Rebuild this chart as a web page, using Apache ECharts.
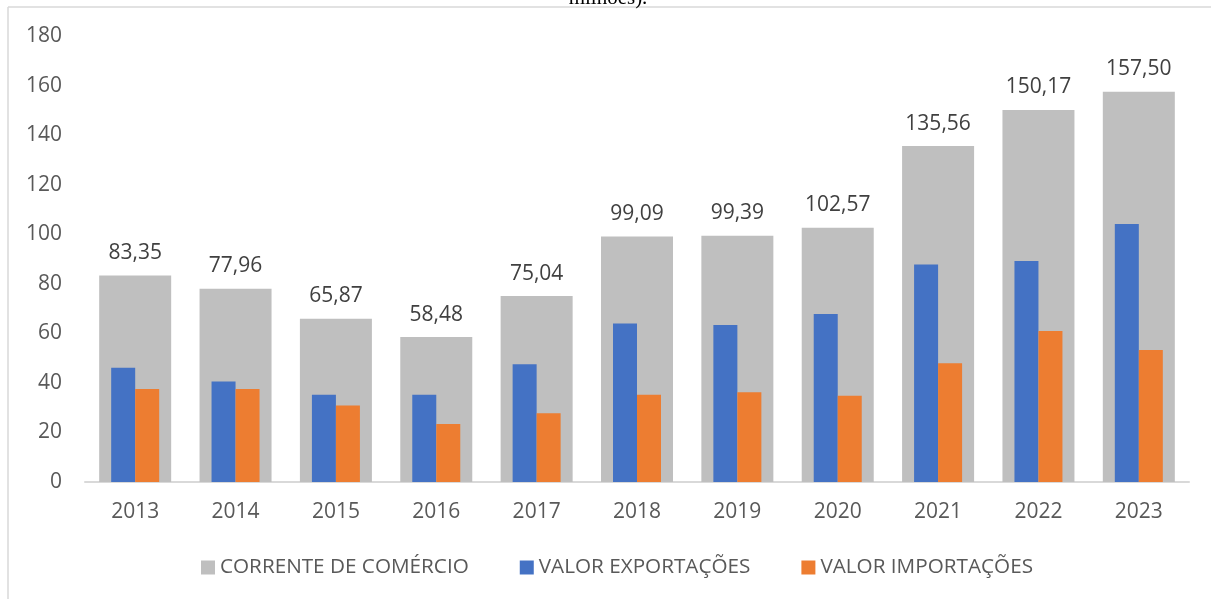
<!DOCTYPE html>
<html>
<head>
<meta charset="utf-8">
<title>Corrente de comércio</title>
<script src="https://cdn.jsdelivr.net/npm/echarts@6/dist/echarts.min.js"></script>
<style>
  html, body { margin: 0; padding: 0; background: #fff; }
  #chart { width: 1211px; height: 599px; }
</style>
</head>
<body>
<div id="chart"></div>
<script>
// dados (bilhões US$)
const anos = ['2013', '2014', '2015', '2016', '2017', '2018', '2019', '2020', '2021', '2022', '2023'];
const corrente = [83.35, 77.96, 65.87, 58.48, 75.04, 99.09, 99.39, 102.57, 135.56, 150.17, 157.50];
const exportacoes = [46.1, 40.6, 35.2, 35.2, 47.5, 64.0, 63.4, 67.8, 87.8, 89.2, 104.1];
const importacoes = [37.5, 37.5, 30.9, 23.4, 27.7, 35.2, 36.2, 34.8, 47.9, 60.9, 53.3];
const yTicks = [0, 20, 40, 60, 80, 100, 120, 140, 160, 180];

const FONT = '"Open Sans", "Noto Sans", sans-serif';

const chart = echarts.init(document.getElementById('chart'));

// formato brasileiro: vírgula decimal
const fmt = (v) => v.toFixed(2).replace('.', ',');

const option = {
  backgroundColor: '#fff',
  animation: false,
  textStyle: { fontFamily: FONT },
  grid: { left: 85, right: 22, top: 36, bottom: 117 },
  legend: {
    left: 196,
    top: 552,
    itemWidth: 14,
    itemHeight: 14,
    itemGap: 51,
    icon: 'rect',
    textStyle: { color: '#595959', fontSize: 20.7, fontFamily: FONT },
    data: ['CORRENTE DE COMÉRCIO', 'VALOR EXPORTAÇÕES', 'VALOR IMPORTAÇÕES']
  },
  xAxis: [
    {
      type: 'category',
      data: anos,
      axisLine: { lineStyle: { color: '#d9d9d9', width: 2 } },
      axisTick: { show: false },
      axisLabel: { color: '#595959', fontSize: 21, margin: 20 }
    },
    {
      type: 'category',
      data: anos,
      show: false
    }
  ],
  yAxis: {
    type: 'value',
    min: yTicks[0],
    max: yTicks[yTicks.length - 1],
    interval: 20,
    axisLine: { show: false },
    axisTick: { show: false },
    splitLine: { show: false },
    axisLabel: { color: '#595959', fontSize: 21, margin: 23 }
  },
  series: [
    {
      name: 'CORRENTE DE COMÉRCIO',
      type: 'bar',
      xAxisIndex: 0,
      barWidth: 72,
      data: corrente,
      itemStyle: { color: '#bfbfbf' },
      label: {
        show: true,
        position: 'top',
        distance: 12,
        color: '#404040',
        fontSize: 21,
        formatter: (p) => fmt(p.value)
      }
    },
    {
      name: 'VALOR EXPORTAÇÕES',
      type: 'bar',
      xAxisIndex: 1,
      barWidth: 24,
      barGap: 0,
      data: exportacoes,
      itemStyle: { color: '#4472c4' }
    },
    {
      name: 'VALOR IMPORTAÇÕES',
      type: 'bar',
      xAxisIndex: 1,
      barWidth: 24,
      barGap: 0,
      data: importacoes,
      itemStyle: { color: '#ed7d31' }
    }
  ],
  graphic: [
    // moldura (linhas cinza claro no topo e à esquerda)
    {
      type: 'line',
      shape: { x1: 8, y1: 7, x2: 1211, y2: 7 },
      style: { stroke: '#d9d9d9', lineWidth: 1.5 }
    },
    {
      type: 'line',
      shape: { x1: 8, y1: 7, x2: 8, y2: 599 },
      style: { stroke: '#d9d9d9', lineWidth: 1.5 }
    },
    // resto do título, cortado no topo
    {
      type: 'text',
      x: 608,
      y: 9,
      style: {
        text: 'milhões).',
        font: '21px "Liberation Serif", serif',
        fill: '#000',
        textAlign: 'center',
        textVerticalAlign: 'bottom'
      }
    }
  ]
};

chart.setOption(option);
</script>
</body>
</html>
